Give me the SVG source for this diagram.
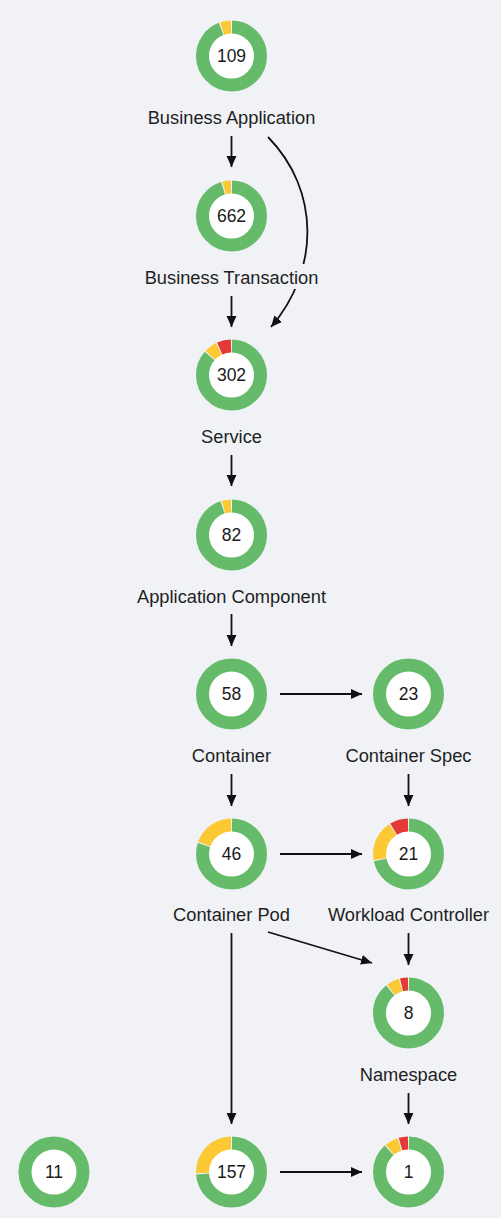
<svg xmlns="http://www.w3.org/2000/svg" width="501" height="1218" viewBox="0 0 501 1218">
<defs>
<style>
.bg{fill:#f0f2f6}
.hole{fill:#ffffff}
.seg{fill:none;stroke-width:13}
.g{stroke:#66bb6a}
.y{stroke:#fcc934}
.r{stroke:#e53935}
.num{font-family:"Liberation Sans",Arial,sans-serif;font-size:17.5px;fill:#1a1a1a;text-anchor:middle}
.lbl{font-family:"Liberation Sans",Arial,sans-serif;font-size:18.3px;fill:#1f1f1f;text-anchor:middle}
.edge{fill:none;stroke:#111;stroke-width:1.8;marker-end:url(#ah)}
</style>
<marker id="ah" viewBox="0 0 10 10" refX="10" refY="5" markerWidth="11" markerHeight="11" markerUnits="userSpaceOnUse" orient="auto">
<path d="M0,0.5 L10,5 L0,9.5 z" fill="#111"/>
</marker>
</defs>
<rect class="bg" x="0" y="0" width="501" height="1218"/>

<g id="connectors">
<line class="edge" x1="231.5" y1="136" x2="231.5" y2="167"/>
<path class="edge" d="M268,137 C320,190 320,270 271,327"/>
<line class="edge" x1="231.5" y1="296" x2="231.5" y2="327"/>
<line class="edge" x1="231.5" y1="455" x2="231.5" y2="486"/>
<line class="edge" x1="231.5" y1="614" x2="231.5" y2="646"/>
<line class="edge" x1="280" y1="694" x2="362" y2="694"/>
<line class="edge" x1="231.5" y1="774" x2="231.5" y2="806"/>
<line class="edge" x1="408.5" y1="774" x2="408.5" y2="806"/>
<line class="edge" x1="280" y1="854" x2="362" y2="854"/>
<line class="edge" x1="268" y1="932" x2="372" y2="963"/>
<line class="edge" x1="408.5" y1="933" x2="408.5" y2="965"/>
<line class="edge" x1="231.5" y1="933" x2="231.5" y2="1124"/>
<line class="edge" x1="408.5" y1="1093" x2="408.5" y2="1124"/>
<line class="edge" x1="280" y1="1172" x2="362" y2="1172"/>
</g>

<g id="business-application" transform="translate(231.5,56)">
<circle class="hole" r="23"/>
<circle class="seg g" r="29" transform="rotate(-90)" pathLength="360" stroke-dasharray="338 400" stroke-dashoffset="-1"/>
<circle class="seg y" r="29" transform="rotate(-90)" pathLength="360" stroke-dasharray="18 400" stroke-dashoffset="-341"/>
<text class="num" y="6">109</text>
<text class="lbl" y="68">Business Application</text>
</g>

<g id="business-transaction" transform="translate(231.5,216)">
<rect class="bg" x="-90" y="48" width="180" height="25"/>
<circle class="hole" r="23"/>
<circle class="seg g" r="29" transform="rotate(-90)" pathLength="360" stroke-dasharray="342 400" stroke-dashoffset="-1"/>
<circle class="seg y" r="29" transform="rotate(-90)" pathLength="360" stroke-dasharray="14 400" stroke-dashoffset="-345"/>
<text class="num" y="6">662</text>
<text class="lbl" y="68">Business Transaction</text>
</g>

<g id="service" transform="translate(231.5,375)">
<circle class="hole" r="23"/>
<circle class="seg g" r="29" transform="rotate(-90)" pathLength="360" stroke-dasharray="310 400" stroke-dashoffset="-1"/>
<circle class="seg y" r="29" transform="rotate(-90)" pathLength="360" stroke-dasharray="21 400" stroke-dashoffset="-313"/>
<circle class="seg r" r="29" transform="rotate(-90)" pathLength="360" stroke-dasharray="23 400" stroke-dashoffset="-336"/>
<text class="num" y="6">302</text>
<text class="lbl" y="68">Service</text>
</g>

<g id="application-component" transform="translate(231.5,535)">
<circle class="hole" r="23"/>
<circle class="seg g" r="29" transform="rotate(-90)" pathLength="360" stroke-dasharray="341 400" stroke-dashoffset="-1"/>
<circle class="seg y" r="29" transform="rotate(-90)" pathLength="360" stroke-dasharray="15 400" stroke-dashoffset="-344"/>
<text class="num" y="6">82</text>
<text class="lbl" y="68">Application Component</text>
</g>

<g id="container" transform="translate(231.5,694)">
<circle class="hole" r="23"/>
<circle class="seg g" r="29"/>
<text class="num" y="6">58</text>
<text class="lbl" y="68">Container</text>
</g>

<g id="container-spec" transform="translate(408.5,694)">
<circle class="hole" r="23"/>
<circle class="seg g" r="29"/>
<text class="num" y="6">23</text>
<text class="lbl" y="68">Container Spec</text>
</g>

<g id="container-pod" transform="translate(231.5,854)">
<circle class="hole" r="23"/>
<circle class="seg g" r="29" transform="rotate(-90)" pathLength="360" stroke-dasharray="287 400" stroke-dashoffset="-1"/>
<circle class="seg y" r="29" transform="rotate(-90)" pathLength="360" stroke-dasharray="69 400" stroke-dashoffset="-290"/>
<text class="num" y="6">46</text>
<text class="lbl" y="67">Container Pod</text>
</g>

<g id="workload-controller" transform="translate(408.5,854)">
<circle class="hole" r="23"/>
<circle class="seg g" r="29" transform="rotate(-90)" pathLength="360" stroke-dasharray="257 400" stroke-dashoffset="-1"/>
<circle class="seg y" r="29" transform="rotate(-90)" pathLength="360" stroke-dasharray="67 400" stroke-dashoffset="-260"/>
<circle class="seg r" r="29" transform="rotate(-90)" pathLength="360" stroke-dasharray="30 400" stroke-dashoffset="-329"/>
<text class="num" y="6">21</text>
<text class="lbl" y="67">Workload Controller</text>
</g>

<g id="namespace" transform="translate(408.5,1013)">
<circle class="hole" r="23"/>
<circle class="seg g" r="29" transform="rotate(-90)" pathLength="360" stroke-dasharray="320 400" stroke-dashoffset="-1"/>
<circle class="seg y" r="29" transform="rotate(-90)" pathLength="360" stroke-dasharray="21 400" stroke-dashoffset="-323"/>
<circle class="seg r" r="29" transform="rotate(-90)" pathLength="360" stroke-dasharray="13 400" stroke-dashoffset="-346"/>
<text class="num" y="6">8</text>
<text class="lbl" y="68">Namespace</text>
</g>

<g id="node-11" transform="translate(54,1172)">
<circle class="hole" r="23"/>
<circle class="seg g" r="29"/>
<text class="num" y="6">11</text>
</g>

<g id="node-157" transform="translate(231.5,1172)">
<circle class="hole" r="23"/>
<circle class="seg g" r="29" transform="rotate(-90)" pathLength="360" stroke-dasharray="265 400" stroke-dashoffset="-1"/>
<circle class="seg y" r="29" transform="rotate(-90)" pathLength="360" stroke-dasharray="91 400" stroke-dashoffset="-268"/>
<text class="num" y="6">157</text>
</g>

<g id="node-1" transform="translate(408.5,1172)">
<circle class="hole" r="23"/>
<circle class="seg g" r="29" transform="rotate(-90)" pathLength="360" stroke-dasharray="317 400" stroke-dashoffset="-1"/>
<circle class="seg y" r="29" transform="rotate(-90)" pathLength="360" stroke-dasharray="22 400" stroke-dashoffset="-320"/>
<circle class="seg r" r="29" transform="rotate(-90)" pathLength="360" stroke-dasharray="15 400" stroke-dashoffset="-344"/>
<text class="num" y="6">1</text>
</g>
</svg>
